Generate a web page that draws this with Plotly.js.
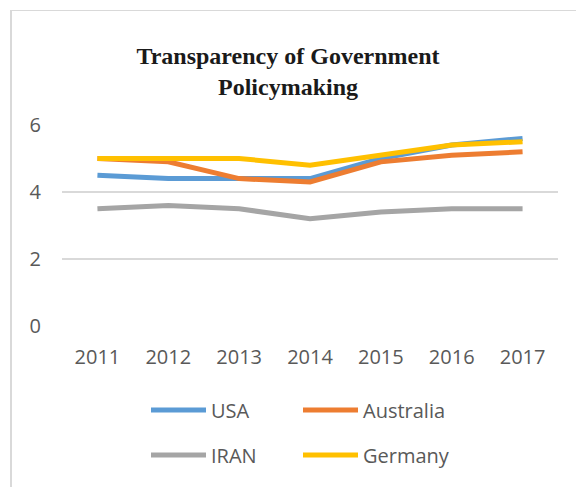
<!DOCTYPE html>
<html>
<head>
<meta charset="utf-8">
<script src="https://cdn.plot.ly/plotly-3.0.1.min.js"></script>
<style>
  html, body { margin: 0; padding: 0; background: #fff; }
  #wrap { position: relative; width: 576px; height: 487px; overflow: hidden; }
  #chart { position: absolute; left: 0; top: 0; width: 576px; height: 487px; }
  #frame { position: absolute; left: 10px; top: 10px; width: 600px; height: 500px;
           border-left: 2px solid #d9d9d9; border-top: 1px solid #d9d9d9; pointer-events: none; }
</style>
</head>
<body>
<div id="wrap">
  <div id="chart"></div>
  <div id="frame"></div>
</div>
<script>
const years = ['2011', '2012', '2013', '2014', '2015', '2016', '2017'];
const usa       = [4.5, 4.4, 4.4, 4.4, 5.0, 5.4, 5.6];
const australia = [5.0, 4.9, 4.4, 4.3, 4.9, 5.1, 5.2];
const iran      = [3.5, 3.6, 3.5, 3.2, 3.4, 3.5, 3.5];
const germany   = [5.0, 5.0, 5.0, 4.8, 5.1, 5.4, 5.5];
const seriesNames = ['USA', 'Australia', 'IRAN', 'Germany'];
const yTicks = [0, 2, 4, 6];

const colors = ['#5B9BD5', '#ED7D31', '#A5A5A5', '#FFC000'];
const values = [usa, australia, iran, germany];
const legendOf = ['legend', 'legend', 'legend2', 'legend2'];

const traces = values.map((v, i) => ({
  type: 'scatter',
  mode: 'lines',
  x: years,
  y: v,
  name: seriesNames[i],
  legend: legendOf[i],
  line: { color: colors[i], width: 5 },
  hoverinfo: 'skip'
}));

const legendFont = { family: 'Open Sans, Liberation Sans, sans-serif', size: 20, color: '#595959' };

const layout = {
  width: 576,
  height: 487,
  paper_bgcolor: '#ffffff',
  plot_bgcolor: '#ffffff',
  margin: { l: 62, r: 18, t: 125, b: 161 },
  title: {
    text: 'Transparency of Government<br>Policymaking',
    font: { family: 'Liberation Serif, Times New Roman, serif', size: 24, color: '#1a1a1a', weight: 'bold' },
    x: 0.5, xanchor: 'center', xref: 'container',
    y: 1 - 64 / 487, yanchor: 'top', yref: 'container'
  },
  xaxis: {
    type: 'category',
    range: [-0.5, 6.5],
    showgrid: false,
    zeroline: false,
    showline: false,
    ticks: '',
    ticklabelstandoff: 17,
    tickfont: { family: 'Open Sans, Liberation Sans, sans-serif', size: 20, color: '#595959' },
    fixedrange: true
  },
  yaxis: {
    range: [0, 6],
    tickvals: yTicks,
    ticktext: yTicks.map(String),
    showgrid: true,
    gridcolor: '#d9d9d9',
    gridwidth: 1.5,
    zeroline: false,
    showline: false,
    ticks: '',
    ticklabelstandoff: 20,
    tickfont: { family: 'Open Sans, Liberation Sans, sans-serif', size: 20, color: '#595959' },
    fixedrange: true
  },
  showlegend: true,
  legend: {
    orientation: 'h',
    x: 146 / 576, xanchor: 'left', xref: 'container',
    y: 1 - 410 / 487, yanchor: 'middle', yref: 'container',
    itemwidth: 55,
    entrywidth: 82, entrywidthmode: 'pixels',
    font: legendFont, bgcolor: 'rgba(0,0,0,0)'
  },
  legend2: {
    orientation: 'h',
    x: 146 / 576, xanchor: 'left', xref: 'container',
    y: 1 - 455 / 487, yanchor: 'middle', yref: 'container',
    itemwidth: 55,
    entrywidth: 82, entrywidthmode: 'pixels',
    font: legendFont, bgcolor: 'rgba(0,0,0,0)'
  }
};

Plotly.newPlot('chart', traces, layout, { displayModeBar: false, staticPlot: true });
</script>
</body>
</html>
